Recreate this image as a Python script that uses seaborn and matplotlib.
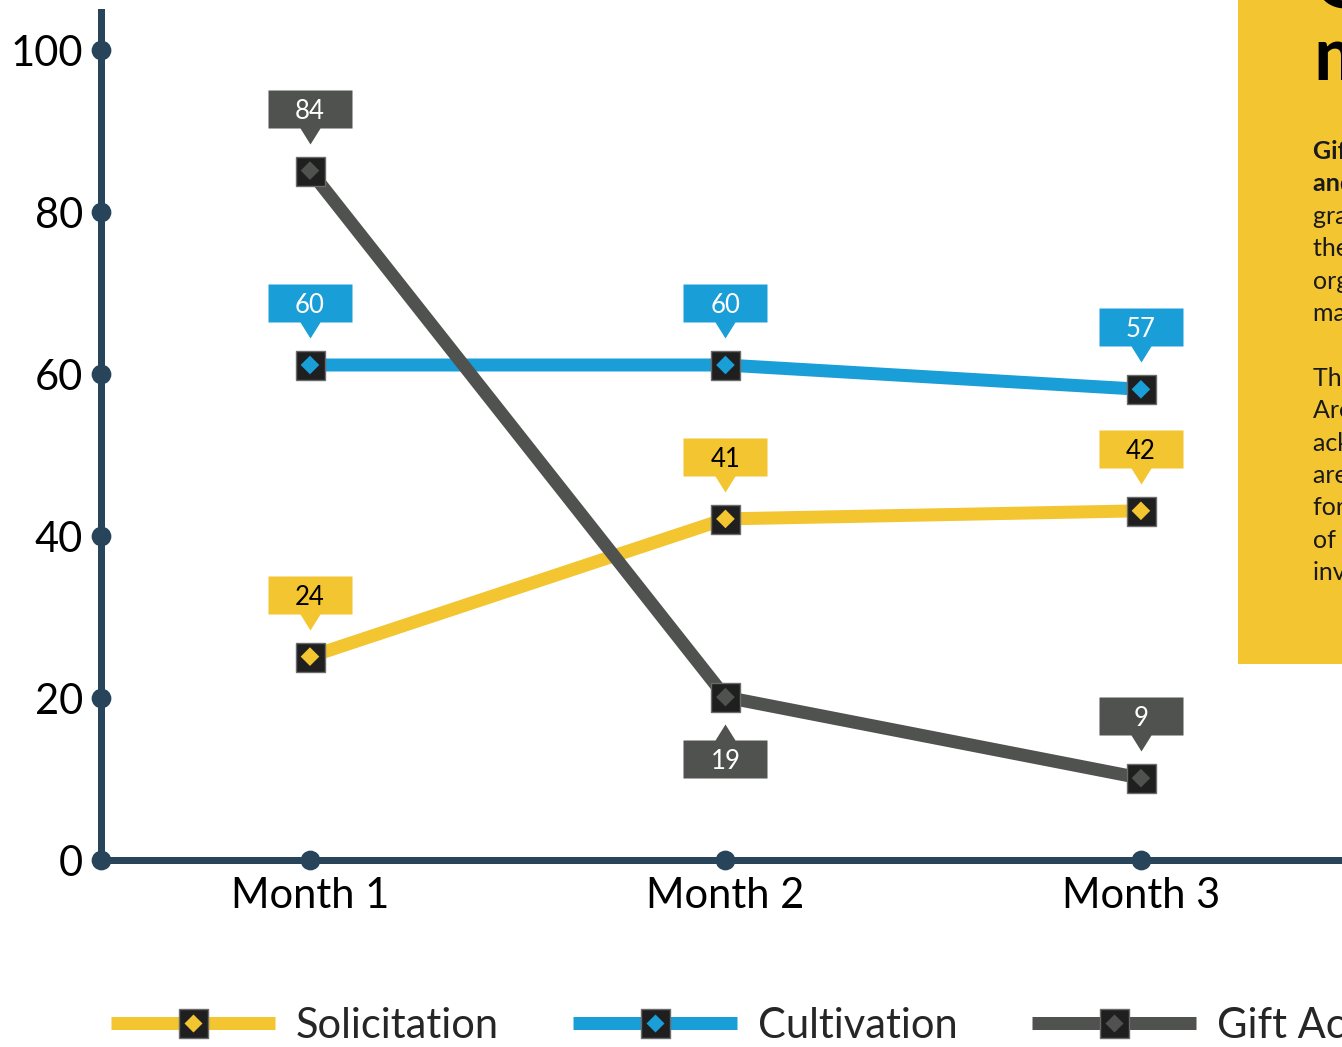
import numpy as np
import pandas as pd
import matplotlib
matplotlib.use("Agg")
import matplotlib.pyplot as plt
import seaborn as sns
from matplotlib.path import Path
from matplotlib.markers import MarkerStyle
from matplotlib.lines import Line2D
from matplotlib.patches import Rectangle
from matplotlib.legend_handler import HandlerTuple
import matplotlib.transforms as mtransforms

# ---------------- data ----------------
months = ["Month 1", "Month 2", "Month 3"]
series_names = ["Solicitation", "Cultivation", "Gift Acceptance"]
solicitation = [24, 41, 42]
cultivation = [60, 60, 57]
gift_acceptance = [84, 19, 9]
# which side the value callout sits on (1 = above, -1 = below)
solicitation_side = [1, 1, 1]
cultivation_side = [1, 1, 1]
gift_side = [1, -1, 1]
y_ticks = [0, 20, 40, 60, 80, 100]

panel_heading = ["Gift", "management"]
panel_bold = ["Gift Acceptance", "and Stewardship"]
panel_para1 = ["grants are managed by", "the Office of the", "organization to ensure", "maximum impact."]
panel_para2 = ["The Gift Acceptance", "Area committee", "acknowledges donors,", "areas of review", "for compliance", "of the policy and", "investment strategy."]

# ---------------- style ----------------
YELLOW = "#f3c531"
BLUE = "#1a9ed8"
GRAY = "#50524f"
SPINE = "#27445a"
SQUARE = "#1f1f1f"
colors = [YELLOW, BLUE, GRAY]
text_colors = ["black", "white", "white"]

sns.set_theme(style="white")
plt.rcParams["font.family"] = ["Lato", "DejaVu Sans"]

W, H, DPI = 1342, 1047, 100
fig = plt.figure(figsize=(W / DPI, H / DPI), dpi=DPI)
PX = 72.0 / DPI  # points per pixel

ax = fig.add_axes([101 / W, 1 - 860 / H, 1 - 101 / W, (860 - 12) / H])

values = [solicitation, cultivation, gift_acceptance]
sides = [solicitation_side, cultivation_side, gift_side]
df = pd.DataFrame({
    "month": months * 3,
    "value": solicitation + cultivation + gift_acceptance,
    "series": [s for s in series_names for _ in months],
})

sns.lineplot(data=df, x="month", y="value", hue="series", palette=colors,
             hue_order=series_names, linewidth=13 * PX, marker="s",
             markersize=29 * PX, markerfacecolor=SQUARE, markeredgecolor="#6b6b6b",
             markeredgewidth=1, legend=False, ax=ax, sort=False,
             solid_capstyle="butt", zorder=3)
sns.scatterplot(data=df, x="month", y="value", hue="series", palette=colors,
                hue_order=series_names, marker="D", s=(9.5) ** 2,
                edgecolor="none", legend=False, ax=ax, zorder=4)

# lift the plotted marks slightly (as in the reference)
off = ax.transData + mtransforms.ScaledTranslation(0, 9 / DPI, fig.dpi_scale_trans)
for ln in ax.lines:
    ln.set_transform(off)
for coll in ax.collections:
    coll.set_offset_transform(off)


def callout_path(direction):
    verts = np.array([(-42, 43), (-10, 43), (0, 27), (10, 43), (42, 43),
                      (42, 81), (-42, 81), (-42, 43)], dtype=float)
    verts[:, 1] *= direction
    codes = [Path.MOVETO] + [Path.LINETO] * 6 + [Path.CLOSEPOLY]
    return Path(verts, codes)


for vals, side, col, tcol in zip(values, sides, colors, text_colors):
    for i, (v, s) in enumerate(zip(vals, side)):
        p = callout_path(s)
        ms = 2 * np.max(np.abs(p.vertices)) * PX
        ax.plot([i], [v], marker=MarkerStyle(p), markersize=ms, color=col,
                markeredgewidth=0, linestyle="none", transform=off,
                clip_on=False, zorder=5)
        ax.annotate(str(v), xy=(i, v), xycoords=off,
                    xytext=(0, s * 62 * PX), textcoords="offset points",
                    ha="center", va="center_baseline", fontsize=18.5,
                    color=tcol, zorder=6, annotation_clip=False)

# ---------------- axes ----------------
ax.set_xlim(-0.503, 2.484)
ax.set_ylim(0, (860 - 12) / 8.1)
ax.set_yticks(y_ticks)
ax.set_xticks(range(len(months)))
ax.set_xticklabels(months)
ax.set_xlabel("")
ax.set_ylabel("")
for s in ["top", "right"]:
    ax.spines[s].set_visible(False)
for s in ["left", "bottom"]:
    ax.spines[s].set_color(SPINE)
    ax.spines[s].set_linewidth(7 * PX)
    ax.spines[s].set_capstyle("projecting")
ax.tick_params(axis="y", length=0, pad=13, labelsize=30, labelcolor="black")
ax.tick_params(axis="x", length=0, pad=12, labelsize=30, labelcolor="black")
for tk in ax.yaxis.get_major_ticks() + ax.xaxis.get_major_ticks():
    tk.tick1line.set_marker("o")
    tk.tick1line.set_markersize(18 * PX)
    tk.tick1line.set_markerfacecolor(SPINE)
    tk.tick1line.set_markeredgecolor(SPINE)
    tk.tick1line.set_visible(True)
ax.grid(False)

# ---------------- legend ----------------
handles = []
for col in colors:
    line = Line2D([], [], color=col, linewidth=13 * PX, solid_capstyle="butt")
    sq = Line2D([], [], marker="s", markersize=29 * PX, markerfacecolor=SQUARE,
                markeredgecolor="#6b6b6b", markeredgewidth=1, linestyle="none")
    dm = Line2D([], [], marker="D", markersize=9.5, markerfacecolor=col,
                markeredgecolor="none", linestyle="none")
    handles.append((line, sq, dm))
fig.legend(handles=handles, labels=series_names,
           handler_map={tuple: HandlerTuple(ndivide=1)},
           loc="center left", bbox_to_anchor=(111 / W, 1 - 1026 / H),
           ncol=3, frameon=False, fontsize=30, handlelength=3.94,
           handletextpad=0.5, columnspacing=1.78, borderpad=0,
           borderaxespad=0, numpoints=1)

# ---------------- side panel (cut off at the right edge) ----------------
fig.patches.append(Rectangle((1238 / W, 1 - 664 / H), (W - 1238) / W, 664 / H,
                             transform=fig.transFigure, facecolor=YELLOW,
                             edgecolor="none", zorder=5))
tx = 1313 / W
fig.text(tx, 1 - 7 / H, panel_heading[0], fontsize=54, fontweight="bold",
         va="baseline", ha="left", color="black", zorder=6)
fig.text(tx, 1 - 80 / H, panel_heading[1], fontsize=54, fontweight="bold",
         va="baseline", ha="left", color="black", zorder=6)
y0 = 159
step = 32.4
row = 0
for line in panel_bold:
    fig.text(tx, 1 - (y0 + row * step) / H, line, fontsize=18, fontweight="bold",
             va="baseline", ha="left", color="#1a1a1a", zorder=6)
    row += 1
for line in panel_para1:
    fig.text(tx, 1 - (y0 + row * step) / H, line, fontsize=18,
             va="baseline", ha="left", color="#1a1a1a", zorder=6)
    row += 1
row += 1
for line in panel_para2:
    fig.text(tx, 1 - (y0 + row * step) / H, line, fontsize=18,
             va="baseline", ha="left", color="#1a1a1a", zorder=6)
    row += 1

fig.savefig("out.png", dpi=DPI)
